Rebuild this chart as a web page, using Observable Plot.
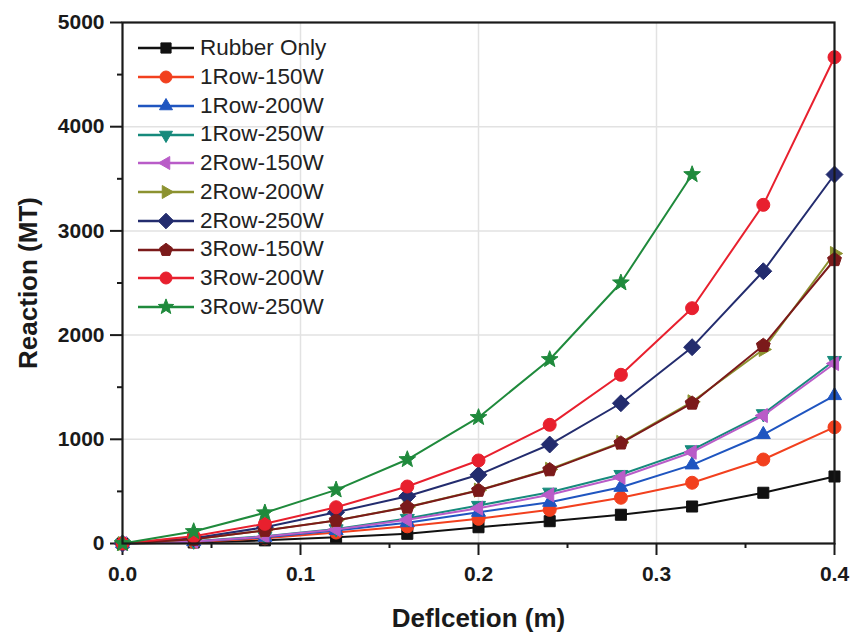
<!DOCTYPE html>
<html>
<head>
<meta charset="utf-8">
<script src="https://cdn.jsdelivr.net/npm/d3@7"></script>
<script src="https://cdn.jsdelivr.net/npm/@observablehq/plot@0.6"></script>
<style>
  html, body { margin: 0; padding: 0; background: #fff; }
  #wrap { position: relative; width: 859px; height: 639px; font-family: "Liberation Sans", Arial, sans-serif; }
  #legend { position: absolute; left: 136px; top: 34px; }
  #legend .row { display: flex; align-items: center; height: 28.75px; }
  #legend .row span { font-size: 22.5px; color: #222; margin-left: 4px; line-height: 1; }
  svg g[aria-label="x-axis label"] text, svg g[aria-label="y-axis label"] text { font-size: 26px; }
</style>
</head>
<body>
<div id="wrap"><div id="legend"></div></div>
<script>
// ---------- data ----------
const deflection = [0, 0.04, 0.08, 0.12, 0.16, 0.2, 0.24, 0.28, 0.32, 0.36, 0.4];
const seriesNames = ["Rubber Only", "1Row-150W", "1Row-200W", "1Row-250W", "2Row-150W",
  "2Row-200W", "2Row-250W", "3Row-150W", "3Row-200W", "3Row-250W"];
const rubberOnly = [0, 10, 30, 60, 93, 156, 214, 276, 355, 487, 643];
const row1w150  = [0, 15, 50, 105, 165, 237, 323, 439, 583, 806, 1116];
const row1w200  = [0, 18, 60, 125, 200, 300, 396, 540, 755, 1046, 1420];
const row1w250  = [0, 22, 70, 140, 240, 365, 492, 662, 899, 1245, 1756];
const row2w150  = [0, 20, 67, 134, 227, 339, 467, 636, 876, 1228, 1727];
const row2w200  = [0, 40, 126, 222, 350, 512, 712, 970, 1360, 1862, 2783];
const row2w250  = [0, 50, 156, 300, 454, 659, 950, 1346, 1884, 2613, 3541];
const row3w150  = [0, 40, 125, 221, 348, 509, 707, 963, 1346, 1900, 2723];
const row3w200  = [0, 70, 189, 348, 547, 797, 1139, 1619, 2258, 3250, 4667];
const row3w250  = [0, 115, 295, 515, 806, 1210, 1766, 2502, 3541];
const seriesValues = [rubberOnly, row1w150, row1w200, row1w250, row2w150, row2w200, row2w250, row3w150, row3w200, row3w250];
const xTicks = [0, 0.1, 0.2, 0.3, 0.4];
const xMinorTicks = [0.05, 0.15, 0.25, 0.35];
const yTicks = [0, 1000, 2000, 3000, 4000, 5000];
const yMinorTicks = [500, 1500, 2500, 3500, 4500];

// ---------- styles ----------
const colors = ["#111111", "#f2401e", "#1f55c0", "#168a7c", "#b95cc8", "#8c9230", "#232c6e", "#7b1a1a", "#e8202e", "#1f8a3c"];

function poly(n, startDeg, scale) {
  return { draw(ctx, size) {
    const rr = Math.sqrt(size / Math.PI) * scale;
    for (let k = 0; k < n; k++) {
      const t = (startDeg + k * 360 / n) * Math.PI / 180;
      const x = rr * Math.cos(t), y = rr * Math.sin(t);
      k ? ctx.lineTo(x, y) : ctx.moveTo(x, y);
    }
    ctx.closePath();
  }};
}
const circleSym = { draw(ctx, size) { const r = Math.sqrt(size / Math.PI); ctx.moveTo(r, 0); ctx.arc(0, 0, r, 0, 2 * Math.PI); } };
const starSym = { draw(ctx, size) {
  const R = Math.sqrt(size / Math.PI) * 1.35, r = R * 0.42;
  for (let k = 0; k < 10; k++) {
    const rad = k % 2 ? r : R;
    const t = (-90 + k * 36) * Math.PI / 180;
    const x = rad * Math.cos(t), y = rad * Math.sin(t);
    k ? ctx.lineTo(x, y) : ctx.moveTo(x, y);
  }
  ctx.closePath();
}};
const symbols = [
  poly(4, 45, 1.2),      // square
  circleSym,             // circle
  poly(3, -90, 1.25),    // triangle up
  poly(3, 90, 1.25),     // triangle down
  poly(3, 180, 1.25),    // triangle left
  poly(3, 0, 1.25),      // triangle right
  poly(4, -90, 1.3),     // diamond
  poly(5, -90, 1.12),    // pentagon
  circleSym,             // circle
  starSym                // star
];

const data = seriesNames.map((name, i) => seriesValues[i].map((v, j) => ({ series: name, x: deflection[j], y: v })));

const FONT = "'Liberation Sans', Arial, sans-serif";
const seriesMarks = data.flatMap((d, i) => [
  Plot.line(d, { x: "x", y: "y", stroke: colors[i], strokeWidth: 2 }),
  Plot.dot(d, { x: "x", y: "y", r: 6.5, symbol: symbols[i], fill: colors[i], stroke: colors[i], strokeWidth: 1 })
]);

const chart = Plot.plot({
  width: 859,
  height: 639,
  marginLeft: 122,
  marginRight: 25,
  marginTop: 22,
  marginBottom: 96,
  style: { fontFamily: FONT, background: "#fff", color: "#1a1a1a", overflow: "visible" },
  x: { type: "linear", domain: [0, 0.4] },
  y: { type: "linear", domain: [0, 5000] },
  marks: [
    Plot.gridX([0.1, 0.2, 0.3], { stroke: "#e2e2e2", strokeOpacity: 1, strokeWidth: 1.5 }),
    Plot.gridY([1000, 2000, 3000, 4000], { stroke: "#e2e2e2", strokeOpacity: 1, strokeWidth: 1.5 }),
    Plot.axisX(xMinorTicks, { tickSize: 5, tickFormat: () => "", strokeWidth: 2, label: null }),
    Plot.axisY(yMinorTicks, { tickSize: 5, tickFormat: () => "", strokeWidth: 2, label: null }),
    Plot.axisX(xTicks, { tickSize: 12, tickPadding: 11, tickFormat: d3.format(".1f"), strokeWidth: 2,
      fontSize: 21, fontWeight: "bold", label: "Deflcetion (m)", labelAnchor: "center", labelArrow: "none", labelOffset: 83 }),
    Plot.axisY(yTicks, { tickSize: 12, tickPadding: 6, tickFormat: d3.format("d"), strokeWidth: 2,
      fontSize: 21, fontWeight: "bold", label: "Reaction (MT)", labelAnchor: "center", labelArrow: "none", labelOffset: 104 }),
    ...seriesMarks,
    Plot.frame({ stroke: "#1a1a1a", strokeWidth: 2.2 })
  ]
});
document.getElementById("wrap").prepend(chart);

// ---------- legend ----------
const legend = d3.select("#legend");
seriesNames.forEach((name, i) => {
  const row = legend.append("div").attr("class", "row");
  const svg = row.append("svg").attr("width", 60).attr("height", 24);
  svg.append("line").attr("x1", 2).attr("x2", 58).attr("y1", 12).attr("y2", 12)
    .attr("stroke", colors[i]).attr("stroke-width", 2.6);
  svg.append("path").attr("transform", "translate(30,12)")
    .attr("d", d3.symbol().type(symbols[i]).size(Math.PI * 6 * 6)())
    .attr("fill", colors[i]).attr("stroke", colors[i]);
  row.append("span").text(name);
});
</script>
</body>
</html>
